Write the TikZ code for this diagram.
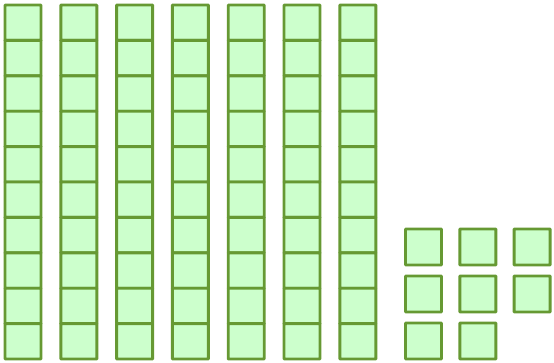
\documentclass[tikz,border=0pt]{standalone}
\usetikzlibrary{positioning}

\definecolor{blockfill}{HTML}{CCFFCC}
\definecolor{blockline}{HTML}{669933}

\begin{document}
\begin{tikzpicture}[x=1pt,y=-1pt,
  cell/.style={draw=blockline,fill=blockfill,line width=2.9pt,rounded corners=0.6pt}]
  \useasboundingbox (0,0) rectangle (554,362);
  % seven rods of ten
  \foreach \i in {0,...,6} {
    \foreach \j in {0,...,9} {
      \draw[cell] ({5+55.8*\i},{5+35.4*\j}) rectangle ++(36,35.4);
    }
  }
  % eight ones
  \foreach \i/\j in {0/0,1/0,2/0,0/1,1/1,2/1,0/2,1/2} {
    \draw[cell] ({405.5+54.3*\i},{229+47*\j}) rectangle ++(36,36);
  }
\end{tikzpicture}
\end{document}
